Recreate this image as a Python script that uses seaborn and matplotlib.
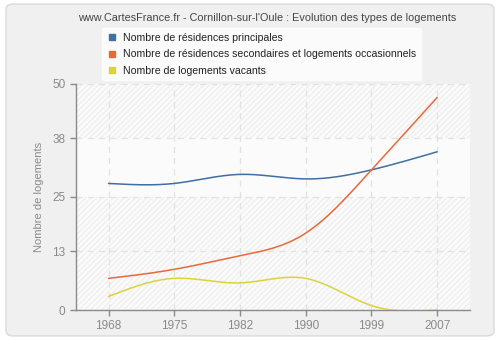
import numpy as np
import pandas as pd
import matplotlib
matplotlib.use("Agg")
import matplotlib.pyplot as plt
import seaborn as sns
from matplotlib.patches import FancyBboxPatch
from matplotlib.lines import Line2D

years = ["1968", "1975", "1982", "1990", "1999", "2007"]
principales = [28, 28, 30, 29, 31, 35]
secondaires = [7, 9, 12, 17, 31, 47]
vacants = [3, 7, 6, 7, 1, 0]
labels = ["Nombre de résidences principales",
          "Nombre de résidences secondaires et logements occasionnels",
          "Nombre de logements vacants"]
colors = ["#3f6fa3", "#e8693a", "#ddd23a"]
yticks = [0, 13, 25, 38, 50]
title = "www.CartesFrance.fr - Cornillon-sur-l'Oule : Evolution des types de logements"


def smooth(vals, n=40):
    """Natural cubic spline through the points (uniform spacing), for drawing only."""
    p = np.asarray(vals, dtype=float)
    k = len(p)
    A = np.zeros((k, k))
    r = np.zeros(k)
    A[0, 0] = 1
    A[-1, -1] = 1
    for i in range(1, k - 1):
        A[i, i - 1] = 1
        A[i, i] = 4
        A[i, i + 1] = 1
        r[i] = 6 * (p[i + 1] - 2 * p[i] + p[i - 1])
    M = np.linalg.solve(A, r)
    xs, ys = [], []
    for i in range(k - 1):
        s = np.linspace(0, 1, n, endpoint=(i == k - 2))
        y = ((1 - s) * p[i] + s * p[i + 1]
             + ((1 - s) ** 3 - (1 - s)) * M[i] / 6
             + (s ** 3 - s) * M[i + 1] / 6)
        xs.append(i + s)
        ys.append(y)
    return np.concatenate(xs), np.concatenate(ys)


sns.set_theme(style="white")
plt.rcParams['font.family'] = ['Liberation Sans', 'DejaVu Sans']

fig = plt.figure(figsize=(5, 3.4), dpi=100)
fig.patch.set_facecolor("white")
bg = FancyBboxPatch((0.012, 0.012), 0.976, 0.976, boxstyle="round,pad=0,rounding_size=0.015",
                    transform=fig.transFigure, facecolor="#f0f0f0", edgecolor="#dadada",
                    linewidth=1, zorder=-10)
fig.patches.append(bg)

ax = fig.add_axes([0.1514, 0.0882, 0.7886, 0.6648])
ax.set_facecolor("#fbfbfb")

# alternating hatched bands
for lo, hi, hatched in [(0, 13, True), (13, 25, True), (25, 38, False), (38, 50, True)]:
    if hatched:
        ax.axhspan(lo, hi, facecolor="none", edgecolor="#efefef", hatch="//////",
                   linewidth=0, zorder=0)

frames = []
for lab, vals in zip(labels, [principales, secondaires, vacants]):
    xs, ys = smooth(vals)
    frames.append(pd.DataFrame({"x": xs, "y": ys, "serie": lab}))
df = pd.concat(frames, ignore_index=True)

sns.lineplot(data=df, x="x", y="y", hue="serie", palette=colors, ax=ax,
             linewidth=1.1, legend=False, sort=False, estimator=None, zorder=3)

ax.set_xlim(-0.5, len(years) - 0.5)
ax.set_ylim(0, 50)
ax.set_xticks(range(len(years)))
ax.set_xticklabels(years)
ax.set_yticks(yticks)
ax.grid(True, color="#e2e2e2", linestyle=(0, (5, 4)), linewidth=0.9, zorder=1)
ax.set_axisbelow(True)
for s in ["top", "right"]:
    ax.spines[s].set_visible(False)
for s in ["left", "bottom"]:
    ax.spines[s].set_color("#8a8a8a")
    ax.spines[s].set_linewidth(1)
ax.tick_params(axis="both", colors="#8a8a8a", labelsize=8.5, length=4, width=1,
               direction="out", bottom=True, left=True, labelcolor="#8a8a8a")
ax.set_xlabel("")
ax.set_ylabel("Nombre de logements", color="#8a8a8a", fontsize=8, labelpad=6)

fig.text(0.534, 0.947, title, ha="center", va="center", fontsize=7.85, color="#444444")

handles = [Line2D([0], [0], marker="s", linestyle="none", markersize=4.5,
                  markerfacecolor=c, markeredgecolor=c) for c in colors]
leg = fig.legend(handles, labels, loc="upper left", bbox_to_anchor=(0.194, 0.932),
                 frameon=True, fontsize=7.55, handletextpad=0.5, borderpad=0.45,
                 labelspacing=0.6, handlelength=1.0, fancybox=True)
leg.get_frame().set_facecolor("white")
leg.get_frame().set_edgecolor("white")
for t in leg.get_texts():
    t.set_color("#222222")

fig.savefig("out.png", dpi=100, facecolor=fig.get_facecolor())
